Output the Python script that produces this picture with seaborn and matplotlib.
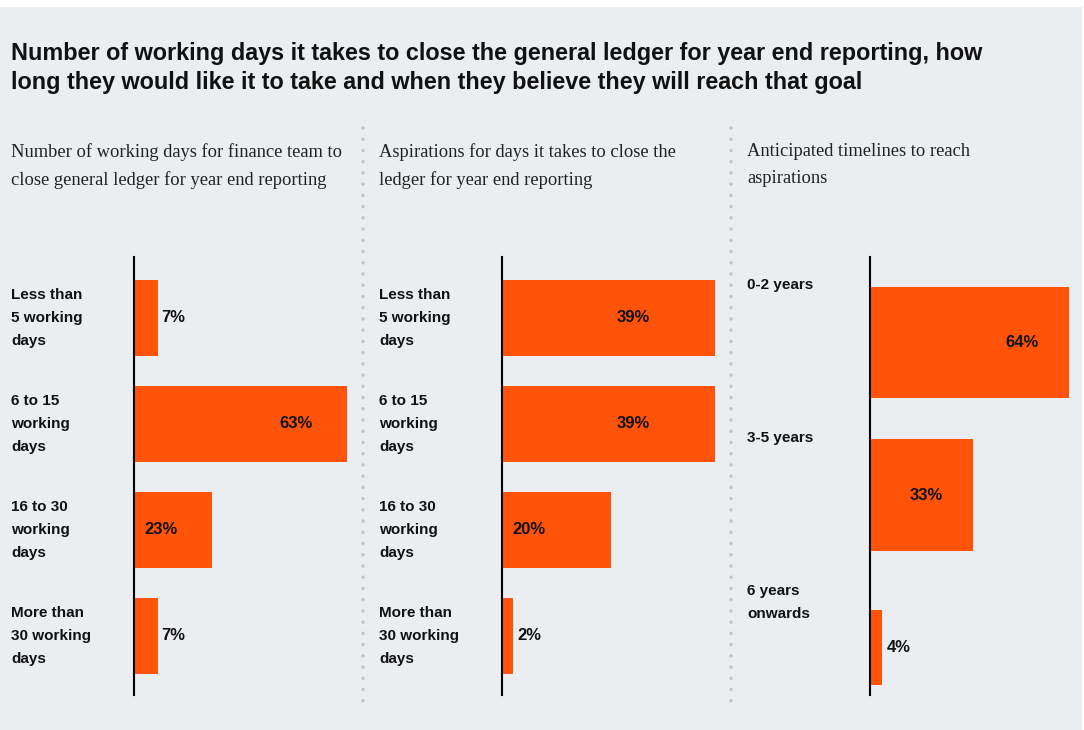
import matplotlib
matplotlib.use("Agg")
import matplotlib.pyplot as plt
from matplotlib.lines import Line2D
from matplotlib.patches import Rectangle
import seaborn as sns
import pandas as pd

# ---- data -------------------------------------------------------------
title = ("Number of working days it takes to close the general ledger for year end reporting, how\n"
         "long they would like it to take and when they believe they will reach that goal")

current_subtitle = "Number of working days for finance team to\nclose general ledger for year end reporting"
current_labels = ["Less than\n5 working\ndays", "6 to 15\nworking\ndays",
                  "16 to 30\nworking\ndays", "More than\n30 working\ndays"]
current_values = [7, 63, 23, 7]

aspiration_subtitle = "Aspirations for days it takes to close the\nledger for year end reporting"
aspiration_labels = ["Less than\n5 working\ndays", "6 to 15\nworking\ndays",
                     "16 to 30\nworking\ndays", "More than\n30 working\ndays"]
aspiration_values = [39, 39, 20, 2]

timeline_subtitle = "Anticipated timelines to reach\naspirations"
timeline_labels = ["0-2 years", "3-5 years", "6 years\nonwards"]
timeline_values = [64, 33, 4]

# ---- style ------------------------------------------------------------
W, H = 1084, 730
BG = "#EBEEF1"
BAR = "#FE5309"
INK = "#111111"
SANS = ["Liberation Sans", "DejaVu Sans"]
SERIF = ["Liberation Serif", "DejaVu Serif"]

sns.set_theme(style="white")
plt.rcParams["font.family"] = SANS

fig = plt.figure(figsize=(W / 100, H / 100), dpi=100, facecolor="white")
fig.add_artist(Rectangle((0, 0), 1082 / W, (H - 7) / H, transform=fig.transFigure,
                         facecolor=BG, edgecolor="none", zorder=-10))


def fx(px):
    return px / W


def fy(px):
    return 1 - px / H


fig.text(fx(11), fy(42), title, fontsize=16.8, fontweight="bold", color=INK,
         va="top", ha="left", linespacing=1.32, family=SANS)


def panel(left_px, width_px, bar_end_px, values, labels, subtitle, text_x_px,
          ylim, bar_width, label_mode="center", thickness=None):
    top_px, bot_px = 257, 695
    ax = fig.add_axes([fx(left_px), fy(bot_px), fx(width_px), (bot_px - top_px) / H])
    ax.set_facecolor("none")
    df = pd.DataFrame({"cat": labels, "val": values})
    sns.barplot(data=df, x="val", y="cat", orient="h", color=BAR, width=bar_width,
                saturation=1, ax=ax, linewidth=0)
    vmax = max(values)
    ax.set_xlim(0, vmax * width_px / (bar_end_px - left_px))
    ax.set_ylim(*ylim)
    for s in ["top", "right", "bottom"]:
        ax.spines[s].set_visible(False)
    ax.spines["left"].set_color("black")
    ax.spines["left"].set_linewidth(1.5)
    ax.set_xticks([])
    ax.set_yticks([])
    ax.set_xlabel("")
    ax.set_ylabel("")

    if thickness is not None:
        for p, t in zip(ax.patches, thickness):
            c = p.get_y() + p.get_height() / 2
            p.set_y(c - t / 2)
            p.set_height(t)

    px_per_unit = (bar_end_px - left_px) / vmax
    tx = ax.transAxes.inverted().transform(
        fig.transFigure.transform((fx(text_x_px), 0)))[0]
    for i, (v, p) in enumerate(zip(values, ax.patches)):
        yc = p.get_y() + p.get_height() / 2
        if v >= 10:
            ax.text(v - 15, yc, f"{v}%", ha="center", va="center", fontsize=12,
                    fontweight="bold", color=INK, family=SANS)
        else:
            ax.text(v + 4 / px_per_unit, yc, f"{v}%", ha="left", va="center",
                    fontsize=12, fontweight="bold", color=INK, family=SANS)
        # category label in the left margin
        if label_mode == "center":
            ax.text(tx, yc, labels[i], transform=ax.get_yaxis_transform(),
                    ha="left", va="center", fontsize=11, fontweight="bold",
                    color=INK, linespacing=1.83, family=SANS, clip_on=False)
        else:
            ax.text(tx, i - 0.42, labels[i], transform=ax.get_yaxis_transform(),
                    ha="left", va="top", fontsize=11, fontweight="bold",
                    color=INK, linespacing=1.83, family=SANS, clip_on=False)

    fig.text(fx(text_x_px), fy(143), subtitle, fontsize=13.3, color="#222222",
             va="top", ha="left", linespacing=1.74, family=SERIF)
    return ax


panel(134, 230, 347, current_values, current_labels, current_subtitle, 11,
      (3.557, -0.575), 0.717)
panel(502, 229, 715, aspiration_values, aspiration_labels, aspiration_subtitle, 379,
      (3.557, -0.575), 0.717)
panel(870, 212, 1069, timeline_values, timeline_labels, timeline_subtitle, 747,
      (2.31, -0.56), 0.73, label_mode="top", thickness=[0.73, 0.73, 0.49])

# dotted separators between the three panels
for x in (363, 731):
    fig.add_artist(Line2D([fx(x), fx(x)], [fy(128), fy(708)], transform=fig.transFigure,
                          color="#C3C6CA", linewidth=2.6, linestyle=(0, (0.01, 3.1)),
                          dash_capstyle="round"))

fig.savefig("out.png", dpi=100, facecolor="white")
